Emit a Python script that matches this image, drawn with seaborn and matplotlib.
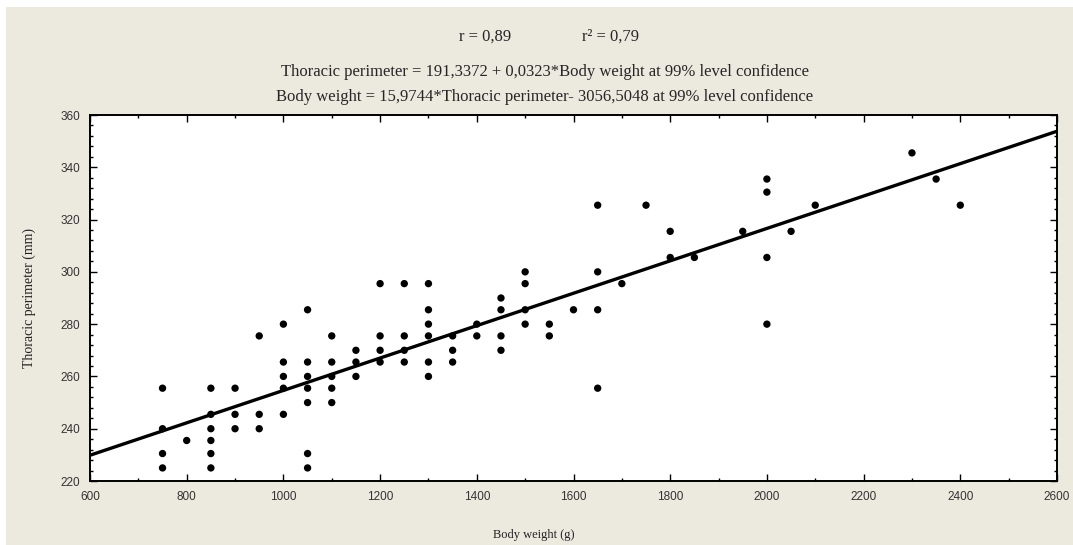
import numpy as np
import pandas as pd
import matplotlib
matplotlib.use("Agg")
import matplotlib.pyplot as plt
import seaborn as sns
from matplotlib.patches import Rectangle
from matplotlib.ticker import MultipleLocator

# --- data (body weight in g, thoracic perimeter in mm) ---
body_weight = (
    [750] * 4 + [800] + [850] * 6 + [900] * 3 + [950] * 3 + [1000] * 5
    + [1050] * 7 + [1100] * 5 + [1150] * 3 + [1200] * 4 + [1250] * 4
    + [1300] * 6 + [1350] * 3 + [1400] * 2 + [1450] * 4 + [1500] * 4
    + [1550] * 2 + [1600] + [1650] * 4 + [1700] + [1750] + [1800] * 2
    + [1850] + [1950] + [2000] * 4 + [2050] + [2100] + [2300] + [2350] + [2400]
)
thoracic_perimeter = [
    255.5, 240, 230.5, 225,                      # 750
    235.5,                                       # 800
    255.5, 245.5, 240, 235.5, 230.5, 225,        # 850
    255.5, 245.5, 240,                           # 900
    275.5, 245.5, 240,                           # 950
    280, 265.5, 260, 255.5, 245.5,               # 1000
    285.5, 265.5, 260, 255.5, 250, 230.5, 225,   # 1050
    275.5, 265.5, 260, 255.5, 250,               # 1100
    270, 265.5, 260,                             # 1150
    295.5, 275.5, 270, 265.5,                    # 1200
    295.5, 275.5, 270, 265.5,                    # 1250
    295.5, 285.5, 280, 275.5, 265.5, 260,        # 1300
    275.5, 270, 265.5,                           # 1350
    280, 275.5,                                  # 1400
    290, 285.5, 275.5, 270,                      # 1450
    300, 295.5, 285.5, 280,                      # 1500
    280, 275.5,                                  # 1550
    285.5,                                       # 1600
    325.5, 300, 285.5, 255.5,                    # 1650
    295.5,                                       # 1700
    325.5,                                       # 1750
    315.5, 305.5,                                # 1800
    305.5,                                       # 1850
    315.5,                                       # 1950
    335.5, 330.5, 305.5, 280,                    # 2000
    315.5,                                       # 2050
    325.5,                                       # 2100
    345.5,                                       # 2300
    335.5,                                       # 2350
    325.5,                                       # 2400
]

title_r = "r = 0,89"
title_r2 = "r\u00b2 = 0,79"
eq_1 = "Thoracic perimeter = 191,3372 + 0,0323*Body weight at 99% level confidence"
eq_2 = "Body weight = 15,9744*Thoracic perimeter- 3056,5048 at 99% level confidence"

df = pd.DataFrame({"Body weight (g)": body_weight,
                   "Thoracic perimeter (mm)": thoracic_perimeter})

sns.set_style("ticks")
plt.rcParams["font.family"] = ["Liberation Sans", "DejaVu Sans"]

W, H = 1073, 545
fig = plt.figure(figsize=(W / 100, H / 100), dpi=100, facecolor="white")
fig.patches.append(Rectangle((6 / W, 0), 1, 1 - 7 / H, transform=fig.transFigure,
                             facecolor="#ECE9DF", edgecolor="none", zorder=-10))

ax = fig.add_axes([90 / W, 1 - 481 / H, (1057 - 90) / W, (481 - 115) / H])
ax.set_facecolor("white")
ax.set_xlim(600, 2600)
ax.set_ylim(220, 360)

sns.regplot(data=df, x="Body weight (g)", y="Thoracic perimeter (mm)", ax=ax,
            ci=None, truncate=False,
            scatter_kws=dict(s=28, color="black", edgecolor="none", alpha=1),
            line_kws=dict(color="black", lw=2.4))

ax.xaxis.set_major_locator(MultipleLocator(200))
ax.xaxis.set_minor_locator(MultipleLocator(100))
ax.yaxis.set_major_locator(MultipleLocator(20))
ax.yaxis.set_minor_locator(MultipleLocator(4))
ax.tick_params(which="both", direction="in", top=True, right=True,
               colors="black", labelcolor="#333333", labelsize=8.5, width=1)
ax.tick_params(which="major", length=5, pad=7)
ax.tick_params(which="minor", length=2.5)
for sp in ax.spines.values():
    sp.set_visible(True)
    sp.set_linewidth(1.4)
    sp.set_color("black")

serif = ["Liberation Serif", "DejaVu Serif"]
ax.set_xlabel("Body weight (g)", family=serif, fontsize=9, color="#222222")
ax.xaxis.set_label_coords((534 - 90) / (1057 - 90), -0.13)
ax.set_ylabel("Thoracic perimeter (mm)", family=serif, fontsize=10, color="#222222")
ax.yaxis.set_label_coords(-(90 - 36) / (1057 - 90), 0.5)

fig.text(485 / W, 1 - 37 / H, title_r, ha="center", va="center",
         family=serif, fontsize=12)
fig.text(610 / W, 1 - 37 / H, title_r2, ha="center", va="center",
         family=serif, fontsize=12)
fig.text(545 / W, 1 - 72 / H, eq_1, ha="center", va="center",
         family=serif, fontsize=12)
fig.text(545 / W, 1 - 97 / H, eq_2, ha="center", va="center",
         family=serif, fontsize=12)

fig.savefig("out.png", dpi=100, facecolor=fig.get_facecolor())
